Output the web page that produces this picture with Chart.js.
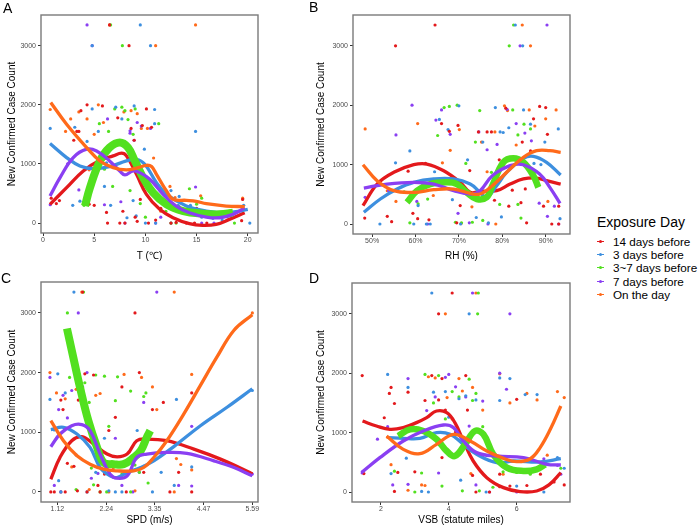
<!DOCTYPE html>
<html>
<head>
<meta charset="utf-8">
<title>New confirmed cases vs weather, by exposure day</title>
<script src="https://cdn.jsdelivr.net/npm/chart.js"></script>
<style>
  body { margin: 0; background: #fff; font-family: "Liberation Sans", Arial, sans-serif; }
  #wrap { position: relative; width: 698px; height: 527px; overflow: hidden; }
  #wrap canvas { position: absolute; }
  .tag { position: absolute; font-size: 14px; line-height: 14px; color: #000; }
  .lg-title { position: absolute; left: 597px; top: 214px; font-size: 14px; line-height: 16px; color: #000; white-space: nowrap; }
  .lg-item { position: absolute; left: 597px; font-size: 11.7px; line-height: 13px; color: #000; white-space: nowrap; }
  .lg-key { position: absolute; left: 0; top: 6px; width: 7px; height: 1px; }
  .lg-dot { position: absolute; left: 2px; top: -1px; width: 3px; height: 3px; border-radius: 50%; }
  .lg-text { position: absolute; left: 16px; top: 0; }
</style>
</head>
<body>
<div id="wrap">
  <canvas id="chartT"></canvas>
  <canvas id="chartRH"></canvas>
  <canvas id="chartSPD"></canvas>
  <canvas id="chartVSB"></canvas>
  <div class="tag" style="left:3px; top:1px;">A</div>
  <div class="tag" style="left:309px; top:0px;">B</div>
  <div class="tag" style="left:1px; top:271px;">C</div>
  <div class="tag" style="left:309px; top:271px;">D</div>
  <div id="legend"></div>
</div>

<script>
// groups in legend order
const groups = ['14 days before', '3 days before', '3~7 days before', '7 days before', 'On the day'];
const colors = ['#E3191C', '#3D8FDF', '#52E01F', '#8A3FF2', '#FF6A1A'];

const yTicks = [0, 1000, 2000, 3000];
const tTicks = [0, 5, 10, 15, 20];
const rhTicks = [50, 60, 70, 80, 90];
const spdTicks = [1.12, 2.24, 3.35, 4.47, 5.59];
const vsbTicks = [2, 4, 6];

// ---- A: temperature ----
const tPts14 = [[0.8,420],[1.3,330],[1.6,380],[3.0,1400],[3.3,1550],[3.7,1900],[3.5,1550],[4.3,2000],[4.5,320],[5.0,300],[5.5,1000],[5.8,1980],[6.2,180],[6.3,0],[6.5,3350],[7.3,1780],[7.5,0],[7.8,200],[8.0,0],[8.4,3000],[8.6,1600],[8.9,1400],[9.0,100],[9.2,30],[9.5,400],[9.7,1650],[10.1,1930],[10.3,0],[10.6,1620],[11.0,50],[11.5,250],[12.5,0],[13.0,10],[14.0,0],[14.8,0],[15.0,250],[16.0,0],[19.4,40],[19.5,400]];
const tPts3 = [[0.7,1600],[2.9,300],[3.1,1620],[3.6,370],[4.3,1380],[4.8,3000],[4.8,1930],[5.4,1550],[6.0,620],[6.2,1020],[6.6,300],[7.1,1960],[7.7,1760],[8.2,90],[8.8,380],[8.9,1980],[9.1,120],[9.5,3350],[9.9,1250],[10.5,3000],[10.9,1920],[10.9,1680],[10.0,0],[11.0,0],[12.5,550],[13.2,300],[13.3,450],[14.4,300],[14.9,1550],[15.5,100],[16.6,80],[17.5,50],[19.6,300],[20.2,0]];
const tPts37 = [[4.0,300],[5.0,900],[5.5,1680],[6.0,910],[6.4,1550],[6.8,620],[7.0,1930],[7.75,3000],[7.7,1960],[8.0,1900],[8.3,1750],[8.5,550],[8.8,1500],[9.0,1930],[9.5,330],[10.0,100],[11.3,1680],[12.0,200],[12.5,0],[13.0,0],[14.3,580],[15.0,320],[15.5,420],[18.7,0],[6.6,3350]];
const tPts7 = [[0.7,310],[2.4,1000],[3.5,560],[4.3,3350],[4.8,3000],[5.3,880],[6.0,310],[6.3,1760],[7.6,360],[8.0,0],[8.5,1520],[8.5,1560],[8.9,1400],[9.2,1700],[9.6,1640],[10.5,1600],[11.0,0],[12.5,0],[13.3,280],[14.9,610],[15.5,0],[16.7,0],[19.5,250],[11.5,100]];
const tPts0 = [[0.7,1920],[2.2,1550],[2.7,1760],[3.5,1880],[4.3,1760],[4.5,900],[5.0,1500],[5.4,2000],[5.9,1700],[6.5,3350],[6.9,1320],[7.9,1880],[8.6,1900],[9.2,1850],[9.6,1600],[10.2,1600],[11.0,3000],[10.8,1100],[12.4,620],[12.9,430],[14.9,3350],[15.4,460],[16.4,100],[19.5,420],[11.5,200]];

const tFit14 = [[0.68,317],[2.3,598],[3.93,881],[5.56,1062],[6.85,1136],[7.67,1181],[8.15,1136],[9.13,825],[10.1,486],[11.4,232],[12.7,90],[14.3,-11],[15.6,-40],[16.9,-23],[18.2,62],[19.7,175]];
const tFit3 = [[0.68,1344],[2.3,1107],[3.6,966],[4.9,921],[6.5,955],[8.15,1051],[9.13,1079],[9.94,994],[11.08,684],[12.06,486],[14.0,288],[15.95,203],[17.9,175],[19.2,203],[20.0,232]];
const tFit37 = [[4.1,288],[4.58,598],[5.56,1051],[6.5,1277],[7.5,1362],[8.3,1277],[8.97,1051],[9.78,768],[10.75,514],[12.06,317],[13.7,203],[15.6,158],[17.25,147],[18.55,175]];
const tFit7 = [[0.68,458],[1.66,768],[2.95,1107],[4.26,1249],[5.23,1220],[6.5,1051],[7.5,881],[8.0,814],[8.8,881],[9.45,853],[10.43,740],[11.73,486],[13.0,288],[14.3,175],[15.95,102],[17.25,90],[18.55,147],[19.7,260]];
const tFit0 = [[0.75,2040],[2.3,1672],[4.26,1277],[5.56,1050],[6.85,937],[8.15,898],[9.29,937],[10.1,977],[10.6,955],[11.08,825],[12.06,542],[12.7,401],[14.0,384],[14.97,367],[15.95,327],[17.9,288],[19.7,277]];

// ---- B: relative humidity ----
const rhPts14 = [[48.3,100],[53.5,130],[54.5,40],[55.4,3000],[58.3,890],[59.4,180],[60.5,90],[62.3,1020],[63.1,70],[64.5,3350],[66,1690],[67.8,1560],[69.5,20],[69.8,1660],[70.3,310],[72.5,900],[74.5,1550],[75.5,540],[76.5,1550],[77.5,1550],[78.2,400],[79.3,1080],[80.8,1950],[81.5,300],[82.3,570],[84.3,360],[84.6,1380],[85.3,590],[85.6,20],[86.5,1230],[87.2,1770],[88.6,1980],[90.0,1960],[90.4,1510],[91.4,0],[93.0,300],[93.0,0],[89.5,300]];
const rhPts3 = [[51.8,0],[55.4,1030],[58.7,1230],[59.6,0],[60.6,310],[62.5,0],[64.4,880],[65.5,1760],[67.5,1590],[68.5,410],[70.0,1990],[70.4,0],[72,1080],[74,110],[75.5,1380],[76.8,20],[78.4,1960],[79.5,1550],[79.8,120],[81.5,1620],[83,3350],[84.7,3000],[84.9,1920],[85.6,950],[86.5,1680],[87.3,1020],[88.9,1000],[89.8,1380],[92.9,1600],[93.3,90],[80.2,1540],[63.4,0]];
const rhPts37 = [[57.4,540],[58.7,20],[60.6,340],[62.8,420],[65.1,1490],[66.6,1960],[67.8,1980],[69.2,30],[70.6,20],[71.6,1020],[73.8,1380],[74.8,1910],[75.5,60],[77.5,870],[79.4,330],[81.6,3000],[82.6,3350],[82.4,1920],[83.6,1500],[84.3,100],[85.0,1680],[86.5,1600],[87.8,880],[83.6,330],[69.6,2000],[73.1,30]];
const rhPts7 = [[48.4,450],[53.8,560],[55.5,1500],[59.2,2000],[60.3,380],[62.8,0],[64.7,1750],[66.0,1920],[68.0,1510],[68.3,700],[69.8,180],[72.4,20],[74.6,1550],[76.5,1250],[78.8,1340],[81.1,1930],[83.2,1690],[84.1,3000],[85.2,1530],[86.7,1400],[88.5,350],[90.3,3350],[92.0,300],[93.0,0],[76.7,0],[90.4,130]];
const rhPts0 = [[48.4,1600],[53.5,560],[55.5,380],[60.5,1690],[64.1,480],[66.2,1030],[68.0,1240],[70.1,1590],[73.0,290],[75.2,1380],[76.5,880],[78.3,1550],[80.5,1990],[81.2,1910],[83.2,1330],[84.6,3350],[86.5,3000],[86.2,1920],[87.5,1650],[90.0,1770],[90.5,380],[92.4,1920],[78.5,0],[70.5,10]];

const rhFit14 = [[47.9,308],[51.15,673],[55.0,870],[59.6,998],[62.6,1010],[66.5,897],[70.3,702],[72.6,533],[74.9,550],[78.7,561],[81.8,673],[84.85,758],[87.9,774],[90.2,729],[93.45,673]];
const rhFit3 = [[48.1,197],[51.9,421],[55.75,589],[59.6,702],[64.2,758],[68.8,758],[72.6,673],[74.9,533],[76.4,449],[78.7,645],[81.0,870],[84.85,1106],[87.15,1140],[90.2,1039],[93.45,825]];
const rhFit37 = [[58.05,365],[60.35,561],[63.4,673],[67.2,702],[69.55,673],[71.8,533],[74.1,421],[76.4,449],[77.7,645],[80.25,1039],[82.55,1106],[84.85,1039],[87.15,814],[88.3,617]];
const rhFit7 = [[48.1,606],[53.45,673],[59.6,702],[64.2,673],[68.8,561],[72.6,505],[74.9,561],[77.7,814],[81.8,982],[84.85,998],[88.6,842],[90.95,617],[93.3,348]];
const rhFit0 = [[47.9,998],[51.15,729],[55.0,561],[59.6,533],[64.2,578],[68.8,589],[72.6,516],[74.9,505],[77.7,645],[81.8,926],[84.85,1123],[87.9,1234],[90.95,1234],[93.45,1207]];

// ---- C: wind speed ----
const spdPts14 = [[0.97,0],[1.05,0],[1.2,1540],[1.3,0],[1.35,480],[1.5,430],[1.6,1540],[1.7,3350],[1.75,1980],[1.8,0],[1.95,1960],[2.05,110],[2.1,0],[2.3,1030],[2.45,1250],[2.6,1760],[2.7,0],[2.9,3000],[3.0,2000],[3.1,330],[3.3,1380],[3.55,1500],[3.7,0],[3.9,330],[4.2,1660],[4.2,0],[1.58,20],[2.2,300],[1.25,1380]];
const spdPts3 = [[0.95,1550],[1.05,1040],[1.13,1980],[1.15,190],[1.2,0],[1.3,1660],[1.5,3350],[1.55,620],[1.65,1560],[1.8,0],[2.0,330],[2.2,900],[2.45,0],[2.6,0],[2.95,1030],[3.3,0],[3.5,330],[3.8,110],[3.85,1550],[4.2,420],[5.59,1700],[3.1,430],[2.3,20]];
const spdPts37 = [[1.35,3000],[1.4,1920],[1.55,40],[1.72,3350],[1.75,1830],[1.85,1500],[1.9,400],[2.0,1960],[2.1,0],[2.2,1940],[2.25,0],[2.3,1100],[2.45,1530],[2.5,1930],[2.6,300],[2.8,1690],[2.9,450],[3.1,1600],[3.2,150],[3.15,1660],[2.8,0],[3.0,330],[1.95,120]];
const spdPts7 = [[0.95,1920],[1.05,110],[1.15,1380],[1.25,1620],[1.35,1240],[1.45,1700],[1.6,3000],[1.7,1760],[1.8,2000],[1.9,230],[2.05,310],[2.45,900],[2.6,110],[2.85,0],[3.1,1500],[3.4,3350],[3.9,110],[4.2,1100],[4.2,100],[3.0,330],[5.59,300],[1.2,0]];
const spdPts0 = [[0.95,2000],[1.1,1660],[1.2,0],[1.3,1560],[1.45,420],[1.55,1720],[1.68,3350],[1.85,40],[2.0,1620],[2.1,1650],[2.3,0],[2.65,1970],[2.9,20],[3.05,1920],[3.3,1760],[3.4,1380],[3.8,3350],[3.85,560],[3.8,0],[4.2,1970],[4.2,370],[5.59,3000],[3.95,460],[2.4,400]];

const spdFit14 = [[0.97,213],[1.18,578],[1.45,859],[1.68,926],[1.95,803],[2.26,635],[2.49,589],[2.72,635],[2.94,859],[3.17,887],[3.63,859],[4.25,718],[4.86,550],[5.53,326],[5.59,300]];
const spdFit3 = [[0.97,1044],[1.26,1084],[1.57,971],[1.87,747],[2.1,410],[2.33,269],[2.49,242],[2.72,326],[3.03,410],[3.33,522],[3.79,760],[4.4,1110],[5.01,1420],[5.59,1730]];
const spdFit37 = [[1.34,2739],[1.45,2374],[1.64,1750],[1.83,1195],[2.03,747],[2.18,494],[2.41,466],[2.64,466],[2.87,578],[3.03,690],[3.17,915],[3.25,1027]];
const spdFit7 = [[0.97,758],[1.18,971],[1.45,1111],[1.68,1128],[1.87,1027],[2.1,635],[2.33,298],[2.49,231],[2.72,269],[2.94,578],[3.17,635],[3.63,663],[4.09,646],[4.71,522],[5.17,410],[5.59,270]];
const spdFit0 = [[0.97,1195],[1.26,859],[1.57,606],[1.87,466],[2.18,382],[2.49,354],[2.87,354],[3.1,410],[3.33,578],[3.63,859],[4.02,1308],[4.4,1785],[4.78,2262],[5.17,2710],[5.59,2970]];

// ---- D: visibility ----
const vsbPts14 = [[1.45,1960],[1.5,310],[2.1,1250],[2.25,1660],[2.3,1760],[2.4,1490],[2.5,330],[2.4,10],[2.8,1680],[3.0,340],[3.3,1540],[3.5,1960],[3.7,3000],[3.7,1550],[3.8,1910],[3.8,580],[3.9,1380],[4.1,3350],[4.2,1010],[4.5,1960],[4.55,1380],[4.7,280],[4.8,0],[5.0,620],[5.5,300],[5.5,90],[5.8,100],[6.3,110],[6.7,300],[7.1,170],[7.4,120],[6.0,1560],[5.2,0]];
const vsbPts3 = [[2.2,1980],[2.3,310],[2.75,570],[2.8,1760],[3.2,10],[3.5,3350],[3.55,1680],[3.9,1690],[4.0,1260],[4.3,1570],[4.5,1620],[4.6,3000],[4.4,900],[4.8,1550],[5.1,0],[5.5,1920],[5.5,1540],[5.8,1910],[6.0,100],[6.6,1640],[6.8,0],[7.2,580],[7.4,400],[4.35,200],[3.4,0],[6.25,1640]];
const vsbPts37 = [[2.4,350],[3.2,320],[3.3,1980],[3.55,1500],[3.7,1960],[3.8,100],[3.9,1230],[4.1,1690],[4.3,1600],[4.6,1900],[4.7,1540],[4.85,3000],[4.87,3350],[4.8,1660],[4.9,20],[5.0,1100],[5.3,80],[5.6,340],[6.0,330],[6.4,300],[6.7,400],[7.3,400],[4.4,20],[3.0,0]];
const vsbPts7 = [[1.45,320],[1.9,890],[2.2,1100],[2.35,120],[2.8,1910],[2.8,130],[3.35,1370],[3.6,1600],[3.9,1930],[4.0,1980],[4.2,1770],[4.5,1600],[4.7,3350],[4.6,1110],[4.8,120],[5.0,1530],[5.5,2000],[5.7,1730],[5.8,3000],[6.0,0],[6.8,560],[7.3,300],[7.2,450],[3.7,320],[5.2,0]];
const vsbPts0 = [[2.2,920],[2.3,460],[2.8,30],[3.2,120],[3.4,1940],[3.6,1920],[3.9,3000],[3.95,1590],[4.1,1230],[4.3,1910],[4.4,1700],[4.7,1760],[4.8,3350],[5.0,1380],[5.5,1990],[5.8,1500],[6.3,1660],[6.6,1550],[7.2,1690],[7.4,1590],[5.6,300],[4.65,310],[6.9,620],[3.3,110]];

const vsbFit14 = [[1.46,1195],[1.87,1111],[2.27,1055],[2.66,1084],[3.05,1168],[3.35,1252],[3.64,1364],[3.94,1336],[4.18,1168],[4.43,859],[4.72,522],[5.12,242],[5.61,74],[6.1,7],[6.59,17],[6.95,120],[7.3,327]];
const vsbFit3 = [[2.22,915],[2.66,904],[3.15,904],[3.64,1000],[4.04,971],[4.43,803],[4.82,635],[5.41,494],[5.9,522],[6.69,505],[7.3,562]];
const vsbFit37 = [[2.51,943],[2.86,1055],[3.25,1027],[3.64,887],[3.94,690],[4.18,606],[4.48,803],[4.77,1027],[5.02,971],[5.31,635],[5.71,410],[6.2,354],[6.59,382],[6.84,466]];
const vsbFit7 = [[1.43,326],[1.97,578],[2.66,859],[3.25,1027],[3.84,1128],[4.14,1084],[4.43,859],[4.82,663],[5.41,606],[6.2,578],[6.89,466],[7.3,455]];
const vsbFit0 = [[2.17,943],[2.66,718],[3.15,646],[3.64,803],[4.14,971],[4.63,859],[5.12,690],[5.61,567],[6.0,511],[6.4,560],[6.69,747],[6.99,1055],[7.3,1448]];

// layout of each panel (canvas box and plot area in page pixels)
const panels = [
  { id: 'chartT', box: [0, 0, 266, 264], plot: [41, 15, 258, 233], xr: [-0.2, 21], ticks: tTicks, fmt: v => String(v),
    title: 'T (\u2103)', xTitleY: 256, yTitleX: 12.3,
    pts: [tPts14, tPts3, tPts37, tPts7, tPts0], fits: [tFit14, tFit3, tFit37, tFit7, tFit0], greenW: 8 },
  { id: 'chartRH', box: [306, 0, 270, 264], plot: [353, 15, 570, 234], xr: [45.6, 95.6], ticks: rhTicks, fmt: v => v + '%',
    title: 'RH (%)', xTitleY: 256, yTitleX: 321,
    pts: [rhPts14, rhPts3, rhPts37, rhPts7, rhPts0], fits: [rhFit14, rhFit3, rhFit37, rhFit7, rhFit0], greenW: 6.5 },
  { id: 'chartSPD', box: [0, 264, 266, 263], plot: [41, 282, 258, 502], xr: [0.745, 5.72], ticks: spdTicks, fmt: v => v.toFixed(2),
    title: 'SPD (m/s)', xTitleY: 520, yTitleX: 12.3,
    pts: [spdPts14, spdPts3, spdPts37, spdPts7, spdPts0], fits: [spdFit14, spdFit3, spdFit37, spdFit7, spdFit0], greenW: 8 },
  { id: 'chartVSB', box: [306, 264, 270, 263], plot: [352, 283, 570, 502], xr: [1.15, 7.57], ticks: vsbTicks, fmt: v => String(v),
    title: 'VSB (statute miles)', xTitleY: 520, yTitleX: 321,
    pts: [vsbPts14, vsbPts3, vsbPts37, vsbPts7, vsbPts0], fits: [vsbFit14, vsbFit3, vsbFit37, vsbFit7, vsbFit0], greenW: 6.5 },
];

const panelBorder = {
  id: 'panelBorder',
  afterDatasetsDraw(chart) {
    const a = chart.chartArea, ctx = chart.ctx;
    ctx.save();
    ctx.strokeStyle = '#7a7a7a';
    ctx.lineWidth = 1.4;
    ctx.strokeRect(a.left, a.top, a.right - a.left, a.bottom - a.top);
    ctx.restore();
  }
};

const tickFont = { family: '"Liberation Sans", Arial, sans-serif', size: 7 };
const titleFont = { family: '"Liberation Sans", Arial, sans-serif', size: 10 };

for (const p of panels) {
  const [bl, bt, bw, bh] = p.box;
  const [pl, pt, pr, pb] = p.plot;
  const cv = document.getElementById(p.id);
  cv.width = bw; cv.height = bh;
  cv.style.left = bl + 'px'; cv.style.top = bt + 'px';

  let datasets = [];
  groups.forEach((g, i) => {
    datasets.push({
      label: g,
      data: p.pts[i].map(d => ({ x: d[0], y: d[1] })),
      backgroundColor: colors[i],
      borderWidth: 0,
      pointRadius: 1.6,
      showLine: false,
      order: 20 + i
    });
  });
  groups.forEach((g, i) => {
    datasets.push({
      label: g + ' fit',
      data: p.fits[i].map(d => ({ x: d[0], y: d[1] })),
      borderColor: colors[i],
      borderWidth: i === 2 ? p.greenW : 3.3,
      pointRadius: 0,
      showLine: true,
      fill: false,
      tension: 0.4,
      order: 10 - i
    });
  });

  new Chart(cv, {
    type: 'scatter',
    data: { datasets: datasets },
    plugins: [panelBorder],
    options: {
      responsive: false,
      animation: false,
      events: [],
      layout: { padding: { left: 0, top: pt - bt, right: bl + bw - pr, bottom: 0 } },
      plugins: { legend: { display: false }, tooltip: { enabled: false } },
      scales: {
        x: {
          type: 'linear',
          min: p.xr[0], max: p.xr[1],
          afterBuildTicks: s => { s.ticks = p.ticks.map(v => ({ value: v })); },
          afterFit: s => { s.height = bt + bh - pb; },
          border: { display: false },
          grid: { drawOnChartArea: false, drawTicks: true, tickLength: 3, color: '#333333' },
          ticks: { font: tickFont, color: '#4d4d4d', padding: 0, maxRotation: 0, autoSkip: false, callback: v => p.fmt(v) },
          title: { display: true, text: p.title, font: titleFont, color: '#000',
                   padding: { top: 0, bottom: (bt + bh) - p.xTitleY - 6 } }
        },
        y: {
          type: 'linear',
          min: -168, max: 3518,
          afterBuildTicks: s => { s.ticks = yTicks.map(v => ({ value: v })); },
          afterFit: s => { s.width = pl - bl; },
          border: { display: false },
          grid: { drawOnChartArea: false, drawTicks: true, tickLength: 3, color: '#333333' },
          ticks: { font: tickFont, color: '#4d4d4d', padding: 2, autoSkip: false, callback: v => String(v) },
          title: { display: true, text: 'New Confirmed Case Count', font: titleFont, color: '#000',
                   padding: { top: p.yTitleX - bl - 6, bottom: 0 } }
        }
      }
    }
  });
}

// legend
const lg = document.getElementById('legend');
const lt = document.createElement('div');
lt.className = 'lg-title';
lt.textContent = 'Exposure Day';
lg.appendChild(lt);
groups.forEach((g, i) => {
  const item = document.createElement('div');
  item.className = 'lg-item';
  item.style.top = (241.7 + i * 13.1 - 6.5) + 'px';
  item.innerHTML = '<span class="lg-key" style="background:' + colors[i] + '"><span class="lg-dot" style="background:' + colors[i] + '"></span></span><span class="lg-text"></span>';
  item.querySelector('.lg-text').textContent = g;
  lg.appendChild(item);
});
</script>
</body>
</html>
